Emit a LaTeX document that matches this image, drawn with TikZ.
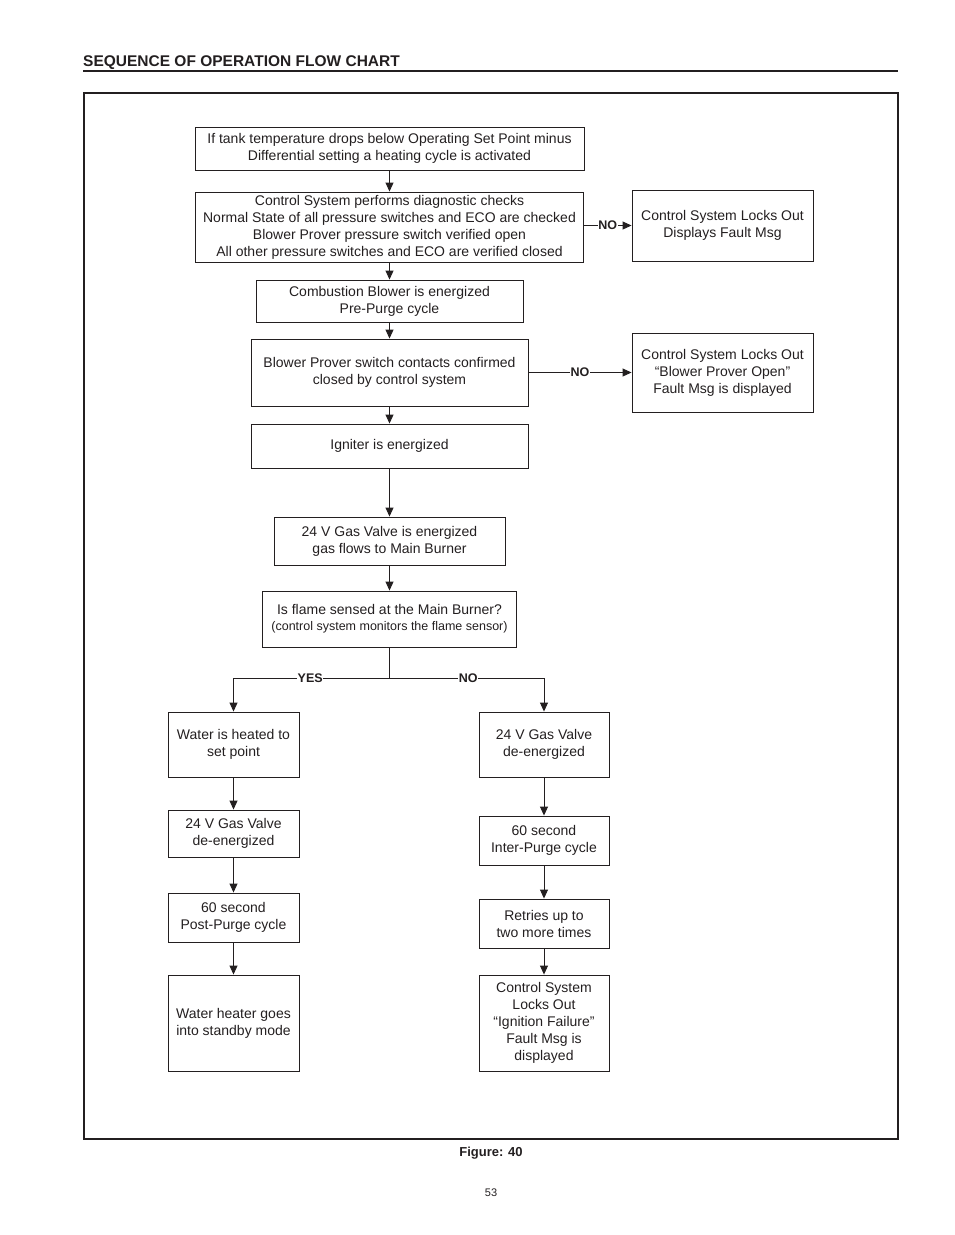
\documentclass[tikz,border=0pt]{standalone}
\usepackage{fontspec}
\setmainfont{Liberation Sans}
\usetikzlibrary{arrows.meta}
\definecolor{ink}{HTML}{231F20}
\begin{document}
\begin{tikzpicture}[x=1pt,y=1pt,
  every node/.style={text=ink},
  box/.style={draw=ink,line width=0.9pt,inner sep=0pt,align=center,font=\fontsize{14}{17}\selectfont},
  arr/.style={draw=ink,line width=0.9pt,-{Triangle[width=8pt,length=9pt]}},
  ln/.style={draw=ink,line width=0.9pt},
  lbl/.style={fill=white,inner sep=0.5pt,font=\bfseries\fontsize{12.5}{14}\selectfont}]
\useasboundingbox (0,0) rectangle (954,-1235);
% heading
\node[anchor=base west,font=\bfseries\fontsize{15.5}{17}\selectfont,inner sep=0pt] (head) at (83,-66) {SEQUENCE OF OPERATION FLOW CHART};
\draw[ink,line width=2pt] (83,-71) -- (898,-71);
\draw[ink,line width=1.8pt] (84,-93) rectangle (898,-1139);
% main column
\node[box,minimum width=389,minimum height=43] (b1) at (389.5,-148.5) {If tank temperature drops below Operating Set Point minus\\Differential setting a heating cycle is activated};
\node[box,minimum width=388,minimum height=70] (b2) at (389.5,-227) {Control System performs diagnostic checks\\Normal State of all pressure switches and ECO are checked\\Blower Prover pressure switch verified open\\All other pressure switches and ECO are verified closed};
\node[box,minimum width=181,minimum height=71] (r1) at (722.5,-225.5) {Control System Locks Out\\Displays Fault Msg};
\node[box,minimum width=267,minimum height=42] (b3) at (389.5,-301) {Combustion Blower is energized\\Pre-Purge cycle};
\node[box,minimum width=277,minimum height=67] (b4) at (389.5,-372.5) {Blower Prover switch contacts confirmed\\closed by control system};
\node[box,minimum width=181,minimum height=79] (r2) at (722.5,-372.5) {Control System Locks Out\\``Blower Prover Open''\\Fault Msg is displayed};
\node[box,minimum width=277,minimum height=44] (b5) at (389.5,-446) {Igniter is energized};
\node[box,minimum width=231,minimum height=48] (b6) at (389.5,-541) {24 V Gas Valve is energized\\gas flows to Main Burner};
\node[box,minimum width=254,minimum height=56] (b7) at (389.5,-619) {Is flame sensed at the Main Burner?\\[-1pt]{\fontsize{12.5}{14}\selectfont(control system monitors the flame sensor)}};
% left column
\node[box,minimum width=131,minimum height=65] (L1) at (233.5,-744.5) {Water is heated to\\set point};
\node[box,minimum width=131,minimum height=47] (L2) at (233.5,-833.5) {24 V Gas Valve\\de-energized};
\node[box,minimum width=131,minimum height=49] (L3) at (233.5,-917.5) {60 second\\Post-Purge cycle};
\node[box,minimum width=131,minimum height=96] (L4) at (233.5,-1023) {Water heater goes\\into standby mode};
% right column
\node[box,minimum width=130,minimum height=65] (R1) at (544,-744.5) {24 V Gas Valve\\de-energized};
\node[box,minimum width=130,minimum height=49] (R2) at (544,-840.5) {60 second\\Inter-Purge cycle};
\node[box,minimum width=130,minimum height=49] (R3) at (544,-923.5) {Retries up to\\two more times};
\node[box,minimum width=130,minimum height=96] (R4) at (544,-1023) {Control System\\Locks Out\\``Ignition Failure''\\Fault Msg is\\displayed};
% connectors
\draw[arr] (b1) -- (b2);
\draw[arr] (b2) -- (b3);
\draw[arr] (b3) -- (b4);
\draw[arr] (b4) -- (b5);
\draw[arr] (b5) -- (b6);
\draw[arr] (b6) -- (b7);
\draw[arr] (b2.east |- r1.west) -- node[lbl,pos=0.5] {NO} (r1.west);
\draw[arr] (b4) -- node[lbl] {NO} (r2);
\coordinate (sp) at (389.5,-678);
\draw[ln] (b7.south) -- (sp);
\draw[arr] (sp) -| node[lbl,pos=0.254] {YES} (L1.north);
\draw[arr] (sp) -| node[lbl,pos=0.255] {NO} (R1.north);
\draw[arr] (L1) -- (L2);
\draw[arr] (L2) -- (L3);
\draw[arr] (L3) -- (L4);
\draw[arr] (R1) -- (R2);
\draw[arr] (R2) -- (R3);
\draw[arr] (R3) -- (R4);
% footer
\node[font=\bfseries\fontsize{13}{15}\selectfont,inner sep=0pt] (fig) at (491,-1153) {Figure: 40};
\node[font=\fontsize{11}{13}\selectfont,inner sep=0pt] (pg) at (491,-1193) {53};
\end{tikzpicture}
\end{document}
